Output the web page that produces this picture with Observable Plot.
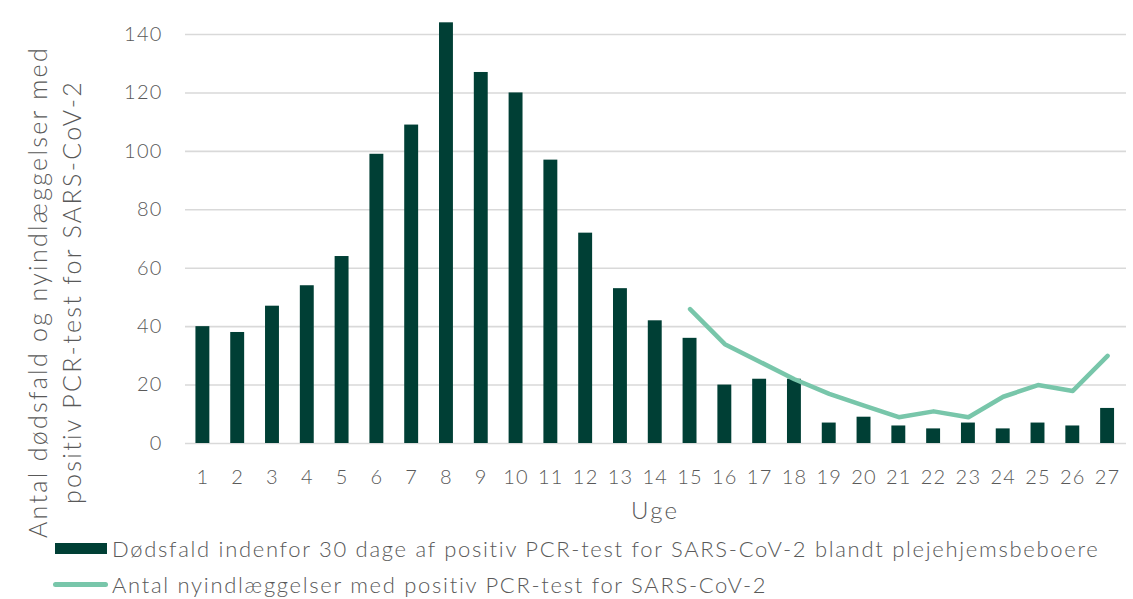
<!DOCTYPE html>
<html>
<head>
<meta charset="utf-8">
<script src="https://cdn.jsdelivr.net/npm/d3@7"></script>
<script src="https://cdn.jsdelivr.net/npm/@observablehq/plot@0.6"></script>
<style>
  html, body { margin: 0; padding: 0; background: #fff; }
  body { width: 1133px; height: 599px; overflow: hidden; font-family: Lato, "Open Sans", sans-serif; color: #595959; }
  #chart { position: relative; z-index: 1; height: 530px; }
  #legend { position: relative; height: 69px; }
  .row { position: absolute; left: 53px; display: flex; align-items: center; font-size: 22px; letter-spacing: 1.7px; font-weight: 300; white-space: nowrap; }
  .sw-bar { width: 52px; height: 11px; background: #003f35; margin-left: 2px; margin-right: 5px; }
  .sw-line { width: 55px; height: 5px; border-radius: 3px; background: #78c6aa; margin-right: 4px; }
</style>
</head>
<body>
<div id="chart"></div>
<div id="legend">
  <div class="row" style="top:5px"><div class="sw-bar"></div><span>Dødsfald indenfor 30 dage af positiv PCR-test for SARS-CoV-2 blandt plejehjemsbeboere</span></div>
  <div class="row" style="top:41px"><div class="sw-line"></div><span>Antal nyindlæggelser med positiv PCR-test for SARS-CoV-2</span></div>
</div>
<script>
const weeks = [1,2,3,4,5,6,7,8,9,10,11,12,13,14,15,16,17,18,19,20,21,22,23,24,25,26,27];
const deaths = [40,38,47,54,64,99,109,144,127,120,97,72,53,42,36,20,22,22,7,9,6,5,7,5,7,6,12];
const admissionWeeks = [15,16,17,18,19,20,21,22,23,24,25,26,27];
const admissions = [46,34,28,22,17,13,9,11,9,16,20,18,30];
const yTicks = [0,20,40,60,80,100,120,140];
const yTitle = "Antal dødsfald og nyindlæggelser med\npositiv PCR-test for SARS-CoV-2";
const xTitle = "Uge";

const barData = weeks.map((w, i) => ({week: w, value: deaths[i]}));
const lineData = admissionWeeks.map((w, i) => ({week: w, value: admissions[i]}));

const chart = Plot.plot({
  width: 1133,
  height: 530,
  marginLeft: 185,
  marginRight: 8.5,
  marginTop: 34,
  marginBottom: 87,
  style: {fontFamily: "Lato, 'Open Sans', sans-serif", fontSize: "20px", fontWeight: 300, letterSpacing: "1.2px", color: "#595959", background: "transparent", overflow: "visible"},
  x: {type: "band", domain: weeks, paddingInner: 0.6, paddingOuter: 0.3, round: false},
  y: {domain: [0, 140]},
  marks: [
    Plot.ruleY(yTicks, {stroke: "#d9d9d9", strokeWidth: 1.6, insetRight: -1.5}),
    Plot.barY(barData, {x: "week", y: "value", fill: "#003f35"}),
    Plot.line(lineData, {x: "week", y: "value", stroke: "#78c6aa", strokeWidth: 4.5, strokeLinecap: "round", strokeLinejoin: "round"}),
    Plot.axisY({ticks: yTicks, tickSize: 0, tickPadding: 23, label: null, fontSize: 20}),
    Plot.axisX({tickSize: 0, tickPadding: 26, label: null, fontSize: 20}),
    Plot.text([xTitle], {text: d => d, frameAnchor: "bottom", dy: 75, fontSize: 24}),
    Plot.text([yTitle], {text: d => d, frameAnchor: "left", textAnchor: "middle", rotate: -90, dx: -132, dy: 53, fontSize: 25, lineHeight: 1.36})
  ]
});
d3.select(chart).selectAll("g[aria-label='text'] text").style("letter-spacing", "2.3px");
document.getElementById("chart").appendChild(chart);
</script>
</body>
</html>
